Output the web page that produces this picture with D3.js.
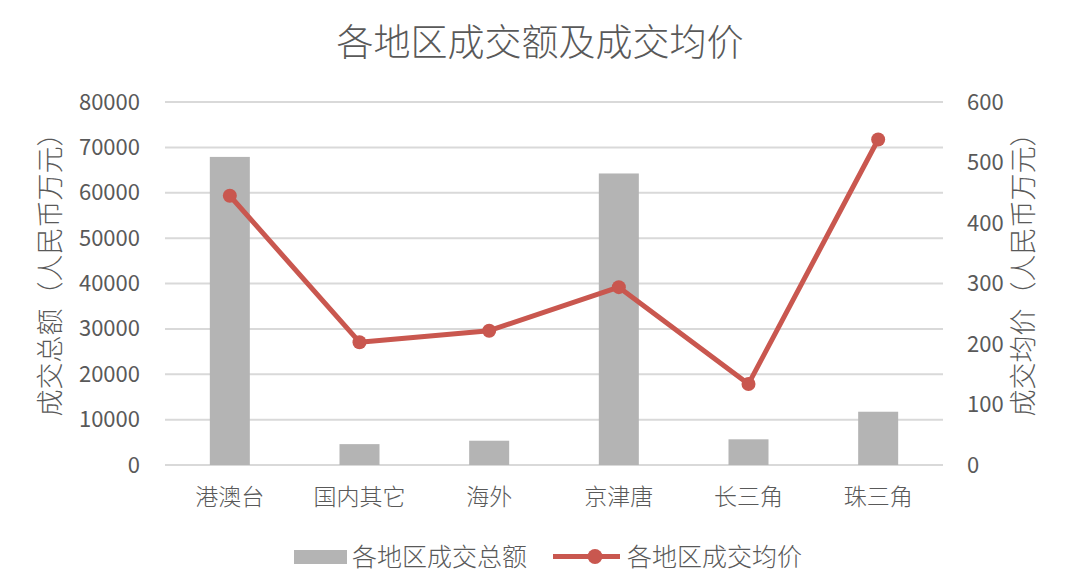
<!DOCTYPE html>
<html>
<head>
<meta charset="utf-8">
<script src="https://cdn.jsdelivr.net/npm/d3@7"></script>
<style>
  body { margin: 0; background: #fff; }
  text { font-family: "Noto Sans CJK SC", "Noto Sans", sans-serif; fill: #595959; }
</style>
</head>
<body>
<svg id="chart" width="1080" height="588"></svg>
<script>
var regions = ['港澳台', '国内其它', '海外', '京津唐', '长三角', '珠三角'];
var totalAmount = [67900, 4600, 5350, 64250, 5660, 11740];
var avgPrice = [445, 203, 222, 294, 134, 538];
var leftTicks = [0, 10000, 20000, 30000, 40000, 50000, 60000, 70000, 80000];
var rightTicks = [0, 100, 200, 300, 400, 500, 600];

var svg = d3.select('#chart');
var plotLeft = 165, plotRight = 943, plotTop = 102, plotBottom = 465;

var x = d3.scaleBand().domain(regions).range([plotLeft, plotRight]);
var yL = d3.scaleLinear().domain([0, 80000]).range([plotBottom, plotTop]);
var yR = d3.scaleLinear().domain([0, 600]).range([plotBottom, plotTop]);

// grid lines
svg.append('g').selectAll('line').data(leftTicks).enter().append('line')
   .attr('x1', plotLeft).attr('x2', plotRight)
   .attr('y1', function(d){ return yL(d); }).attr('y2', function(d){ return yL(d); })
   .attr('stroke', '#d9d9d9').attr('stroke-width', 2);

// left axis
var axL = svg.append('g').attr('transform', 'translate(' + (plotLeft - 10) + ',0)')
   .call(d3.axisLeft(yL).tickValues(leftTicks).tickSize(0).tickPadding(15).tickFormat(d3.format('d')));
axL.select('.domain').remove();
axL.selectAll('text').style('font-size', '22px');

// right axis
var axR = svg.append('g').attr('transform', 'translate(' + (plotRight + 10) + ',0)')
   .call(d3.axisRight(yR).tickValues(rightTicks).tickSize(0).tickPadding(14).tickFormat(d3.format('d')));
axR.select('.domain').remove();
axR.selectAll('text').style('font-size', '22px');

// category axis
var axB = svg.append('g').attr('transform', 'translate(0,' + plotBottom + ')')
   .call(d3.axisBottom(x).tickSize(0).tickPadding(24));
axB.select('.domain').remove();
axB.selectAll('text').style('font-size', '23px').style('font-weight', 300);

// bars
var barW = 40;
svg.append('g').selectAll('rect').data(regions).enter().append('rect')
   .attr('x', function(d){ return x(d) + x.bandwidth() / 2 - barW / 2; })
   .attr('width', barW)
   .attr('y', function(d, i){ return yL(totalAmount[i]); })
   .attr('height', function(d, i){ return plotBottom - yL(totalAmount[i]); })
   .attr('fill', '#b4b4b4');

// line
var line = d3.line()
   .x(function(d, i){ return x(regions[i]) + x.bandwidth() / 2; })
   .y(function(d){ return yR(d); });
svg.append('path').datum(avgPrice).attr('d', line)
   .attr('fill', 'none').attr('stroke', '#c9574f').attr('stroke-width', 5)
   .attr('stroke-linejoin', 'round');
svg.append('g').selectAll('circle').data(avgPrice).enter().append('circle')
   .attr('cx', function(d, i){ return x(regions[i]) + x.bandwidth() / 2; })
   .attr('cy', function(d){ return yR(d); })
   .attr('r', 7).attr('fill', '#c9574f');

// title
svg.append('text').attr('x', 540).attr('y', 56).attr('text-anchor', 'middle')
   .style('font-size', '37px').style('font-weight', 300).text('各地区成交额及成交均价');

// axis titles
svg.append('text').attr('transform', 'translate(60,268) rotate(-90)')
   .attr('text-anchor', 'middle').style('font-size', '27px').style('font-weight', 300)
   .text('成交总额（人民币万元）');
svg.append('text').attr('transform', 'translate(1033,268) rotate(-90)')
   .attr('text-anchor', 'middle').style('font-size', '27px').style('font-weight', 300)
   .text('成交均价（人民币万元）');

// legend
var lg = svg.append('g');
lg.append('rect').attr('x', 294).attr('y', 550).attr('width', 53).attr('height', 14).attr('fill', '#b4b4b4');
lg.append('text').attr('x', 352).attr('y', 566).style('font-size', '25px').style('font-weight', 300).text('各地区成交总额');
lg.append('line').attr('x1', 553).attr('x2', 620).attr('y1', 556.5).attr('y2', 556.5)
   .attr('stroke', '#c9574f').attr('stroke-width', 5);
lg.append('circle').attr('cx', 595).attr('cy', 556.5).attr('r', 7.5).attr('fill', '#c9574f');
lg.append('text').attr('x', 627).attr('y', 566).style('font-size', '25px').style('font-weight', 300).text('各地区成交均价');
</script>
</body>
</html>
